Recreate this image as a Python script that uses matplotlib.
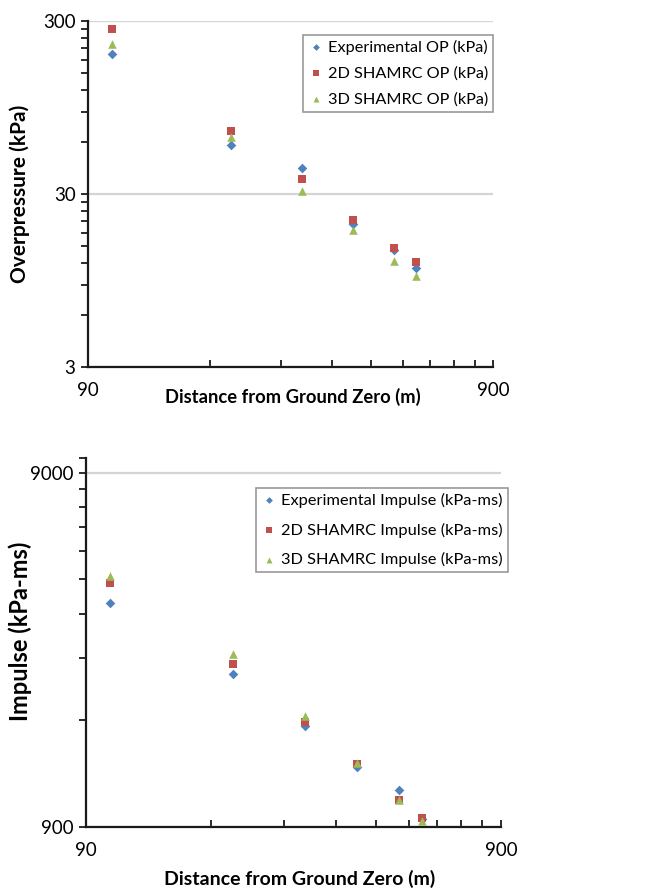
import matplotlib
matplotlib.use("Agg")
import matplotlib.pyplot as plt
from matplotlib.ticker import FixedLocator, NullFormatter, FixedFormatter

plt.rcParams['font.family'] = ['Lato', 'DejaVu Sans']

# Data
distance = [103, 203, 303, 405, 512, 580]
op_exp = [194, 57.7, 42.3, 20.2, 14.3, 11.2]
op_2d = [272, 69.3, 36.8, 21.3, 14.6, 12.1]
op_3d = [223, 64.2, 31.3, 18.5, 12.4, 10.1]
imp_exp = [3855, 2430, 1735, 1328, 1143, 945]
imp_2d = [4400, 2590, 1773, 1350, 1072, 951]
imp_3d = [4605, 2770, 1845, 1365, 1068, 933]

op_labels = ["Experimental OP (kPa)", "2D SHAMRC OP (kPa)", "3D SHAMRC OP (kPa)"]
imp_labels = ["Experimental Impulse (kPa-ms)", "2D SHAMRC Impulse (kPa-ms)",
              "3D SHAMRC Impulse (kPa-ms)"]
xlabel = "Distance from Ground Zero (m)"

blue = "#4F81BD"
red = "#C0504D"
green = "#9BBB59"

fig = plt.figure(figsize=(6.45, 8.92), dpi=100)
ax1 = fig.add_axes([0.1364, 0.5886, 0.628, 0.3873])
ax2 = fig.add_axes([0.1333, 0.0732, 0.6434, 0.4134])


def style(ax, ymin, ymax, ymaj, ylabel, labels, ys, legend_bbox, ylsize,
          legsize, labelspacing):
    ax.set_xscale('log')
    ax.set_yscale('log')
    ax.set_xlim(90, 900)
    ax.set_ylim(ymin, ymax)
    ax.scatter(distance, ys[0], marker='D', s=24, color=blue, label=labels[0], zorder=3, linewidths=0)
    ax.scatter(distance, ys[1], marker='s', s=30, color=red, label=labels[1], zorder=3, linewidths=0)
    ax.scatter(distance, ys[2], marker='^', s=38, color=green, label=labels[2], zorder=3, linewidths=0)
    for s in ['top', 'right']:
        ax.spines[s].set_visible(False)
    for s in ['left', 'bottom']:
        ax.spines[s].set_linewidth(1.6)
        ax.spines[s].set_color('#1a1a1a')
    # x ticks
    ax.xaxis.set_major_locator(FixedLocator([90, 900]))
    ax.xaxis.set_major_formatter(FixedFormatter(['90', '900']))
    ax.xaxis.set_minor_locator(FixedLocator([90 * k for k in range(2, 10)]))
    ax.xaxis.set_minor_formatter(NullFormatter())
    ax.tick_params(axis='x', which='both', direction='in', length=5, width=1.3,
                   labelsize=13.5, pad=11, color='#1a1a1a')
    # y ticks
    ax.yaxis.set_major_locator(FixedLocator(ymaj))
    ax.yaxis.set_major_formatter(FixedFormatter([str(v) for v in ymaj]))
    minors = []
    for base in ymaj[:-1]:
        minors += [base * k for k in range(2, 10)]
    minors += [ymaj[-1] * 1.1]
    ax.yaxis.set_minor_locator(FixedLocator(minors))
    ax.yaxis.set_minor_formatter(NullFormatter())
    ax.tick_params(axis='y', which='both', direction='out', length=5, width=1.3,
                   labelsize=13.5, pad=4, color='#1a1a1a')
    ax.grid(True, axis='y', which='major', color='#d4d4d4', linewidth=1.6)
    ax.set_axisbelow(True)
    ax.set_ylabel(ylabel, fontsize=ylsize, fontweight='bold')
    leg = ax.legend(loc='upper right', bbox_to_anchor=legend_bbox, fontsize=legsize,
                    frameon=True, fancybox=False, edgecolor='#808080',
                    handletextpad=0.25, borderpad=0.3, labelspacing=labelspacing,
                    markerscale=0.7, handlelength=1.0, borderaxespad=0)
    leg.get_frame().set_linewidth(1.2)


style(ax1, 3, 300, [3, 30, 300], "Overpressure (kPa)", op_labels,
      [op_exp, op_2d, op_3d], (1.0, 0.962), 15, 11.7, 0.72)
ax1.set_xlabel(xlabel, fontsize=13.2, fontweight='bold')
ax1.xaxis.set_label_coords(0.505, -0.062)
ax1.yaxis.set_label_coords(-0.143, 0.5)

style(ax2, 900, 9900, [900, 9000], "Impulse (kPa-ms)", imp_labels,
      [imp_exp, imp_2d, imp_3d], (1.017, 0.919), 17, 11.8, 0.9)
ax2.set_xlabel(xlabel, fontsize=14, fontweight='bold')
ax2.xaxis.set_label_coords(0.515, -0.118)
ax2.yaxis.set_label_coords(-0.131, 0.53)

fig.savefig("out.png", dpi=100)
